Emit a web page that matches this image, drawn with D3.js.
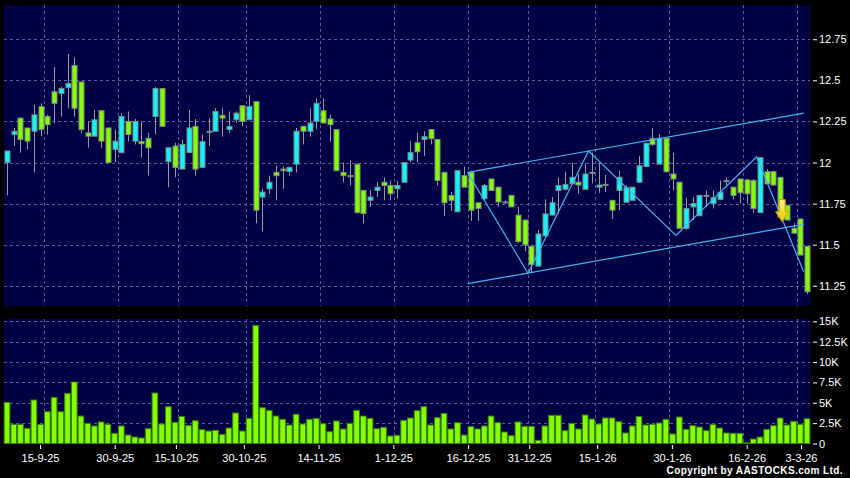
<!DOCTYPE html>
<html>
<head>
<meta charset="utf-8">
<script src="https://d3js.org/d3.v7.min.js"></script>
<style>
  body { margin: 0; background: #000; }
  svg { display: block; }
</style>
</head>
<body>
<div id="viz"></div>
<script>

// x axis labels and the bar index they belong to
var tickLabels = ['15-9-25','30-9-25','15-10-25','30-10-25','14-11-25','1-12-25','16-12-25','31-12-25','15-1-26','30-1-26','16-2-26','3-3-26'];
var tickIndex = [6,17,26,36,47,58,69,78,88,99,110,118];

// daily prices
var opens = [12.00,12.17,12.27,12.21,12.19,12.34,12.28,12.43,12.42,12.455,12.59,12.49,12.18,12.16,12.315,12.21,12.08,12.06,12.25,12.13,
  12.127,12.147,12.28,12.45,12.005,12.10,11.96,12.06,12.22,11.97,12.19,12.19,12.287,12.20,12.26,12.345,12.26,12.37,11.79,11.84,
  11.94,11.96,11.945,11.99,12.22,12.19,12.25,12.315,12.265,12.20,11.94,11.92,11.99,11.83,11.77,11.83,11.88,11.86,11.84,11.88,
  12.015,12.12,12.14,12.20,12.14,11.94,11.80,11.70,11.92,11.94,11.755,11.78,11.90,11.85,11.76,11.80,11.68,11.65,11.49,11.37,
  11.553,11.68,11.83,11.837,11.87,11.88,11.837,11.94,11.85,11.867,11.77,11.83,11.758,11.77,11.88,11.975,12.147,11.99,12.147,11.93,
  11.88,11.60,11.73,11.676,11.80,11.75,11.776,11.89,11.85,11.90,11.894,11.89,11.695,11.944,11.944,11.91,11.74,11.60,11.656,11.49];
var highs = [12.07,12.21,12.27,12.21,12.35,12.36,12.29,12.58,12.46,12.66,12.64,12.49,12.25,12.32,12.32,12.21,12.20,12.30,12.31,12.265,
  12.25,12.18,12.46,12.45,12.09,12.12,12.14,12.32,12.265,12.17,12.27,12.33,12.33,12.31,12.31,12.35,12.41,12.37,11.84,11.92,
  11.98,11.975,11.975,12.21,12.22,12.33,12.39,12.39,12.29,12.20,12.00,12.01,11.99,11.83,11.83,11.88,11.91,11.89,11.89,12.00,
  12.13,12.18,12.19,12.20,12.14,11.94,11.82,11.95,11.975,11.95,11.76,11.87,11.90,11.85,11.77,11.80,11.73,11.65,11.50,11.59,
  11.776,11.79,11.91,11.944,12.00,11.93,11.995,12.06,12.00,11.924,11.77,11.95,11.86,11.85,12.04,12.12,12.21,12.173,12.15,12.06,
  11.88,11.786,11.79,11.80,11.83,11.83,11.89,11.91,11.85,11.90,11.90,11.90,12.03,11.96,11.95,11.91,11.74,11.63,11.66,11.49];
var lows = [11.80,12.10,12.06,12.08,11.94,12.16,12.17,12.24,12.28,12.33,12.28,12.18,12.09,12.16,12.09,12.00,12.00,12.06,12.13,12.11,
  12.03,11.92,12.17,12.22,11.85,11.91,11.96,12.06,11.92,11.97,12.10,12.19,12.157,12.18,12.24,12.22,12.26,11.63,11.58,11.81,
  11.77,11.84,11.92,11.94,12.11,12.157,12.20,12.24,12.127,11.95,11.88,11.86,11.69,11.63,11.73,11.79,11.77,11.77,11.78,11.88,
  12.00,12.00,12.04,12.11,11.86,11.675,11.705,11.70,11.85,11.645,11.645,11.77,11.83,11.73,11.75,11.73,11.51,11.46,11.33,11.37,
  11.55,11.68,11.687,11.83,11.87,11.81,11.837,11.873,11.816,11.82,11.656,11.71,11.758,11.77,11.88,11.975,12.10,11.99,11.94,11.83,
  11.60,11.59,11.65,11.676,11.73,11.72,11.77,11.86,11.776,11.75,11.75,11.695,11.695,11.87,11.86,11.667,11.65,11.57,11.437,11.20];
var closes = [12.07,12.19,12.14,12.13,12.29,12.20,12.23,12.36,12.45,12.48,12.33,12.20,12.16,12.26,12.13,12.00,12.13,12.28,12.17,12.25,
  12.114,12.09,12.45,12.22,12.09,11.97,12.11,12.21,11.96,12.127,12.19,12.31,12.27,12.22,12.30,12.25,12.34,11.71,11.82,11.88,
  11.92,11.95,11.97,12.19,12.19,12.24,12.36,12.24,12.23,11.95,11.92,11.92,11.695,11.69,11.79,11.85,11.86,11.81,11.86,12.00,
  12.06,12.065,12.157,12.145,11.89,11.755,11.77,11.95,11.85,11.71,11.72,11.86,11.83,11.76,11.76,11.73,11.52,11.50,11.38,11.565,
  11.687,11.755,11.86,11.867,11.91,11.863,11.93,11.94,11.863,11.867,11.71,11.91,11.847,11.85,11.98,12.117,12.11,12.147,11.944,11.90,
  11.60,11.72,11.75,11.80,11.80,11.786,11.82,11.89,11.80,11.816,11.81,11.72,12.03,11.87,11.863,11.667,11.65,11.57,11.437,11.214];

// volume in thousands
var volumes = [5.05,2.35,2.35,1.86,5.34,2.35,3.9,5.66,3.9,6.15,7.55,3.37,2.47,2.15,2.64,2.35,1.25,2.15,1.04,0.8,
  0.67,1.82,6.2,2.39,4.52,2.6,3.33,2.19,2.8,1.7,1.53,1.62,1.12,1.9,3.74,1.53,3.09,14.5,4.4,4.07,
  3.37,2.97,2.27,3.58,2.39,2.97,3.09,2.43,1.45,2.76,1.78,2.47,4.07,3.37,3.09,1.82,1.98,0.92,1.0,2.84,
  3.13,4.03,4.52,2.27,3.17,3.7,1.78,2.56,1.04,2.07,1.78,2.15,3.37,2.56,1.41,0.96,2.64,2.11,2.11,0.39,
  2.15,3.46,3.46,1.57,2.47,1.78,3.5,3.0,2.39,3.13,3.13,2.68,1.29,2.15,3.33,2.27,2.35,2.52,2.97,1.17,
  3.25,1.74,2.19,2.02,1.57,2.35,1.9,1.29,1.25,1.25,0.1,0.55,0.8,1.74,2.19,3.13,2.27,2.72,2.35,3.05];

var priceTicks = [12.75,12.5,12.25,12,11.75,11.5,11.25];
var volTicks = [15,12.5,10,7.5,5,2.5,0];

// drawn trend lines (bar index, price)
var zigIndex = [69,78,87,100,112,119];
var zigPrice = [11.94,11.326,12.07,11.557,12.035,11.336];
var channelIndex = [69,119];
var upperPrice = [11.94,12.30];
var lowerPrice = [11.263,11.624];
var signalIndex = 115;
var signalPrice = 11.64;

var width = 850,
    height = 478;

var svg = d3.select('#viz').append('svg')
  .attr('width', width)
  .attr('height', height)
  .style('background', '#000')

var bg = '#000044';
var gridColor = '#5c5c98';
var cyan = '#10f4ff';
var green = '#84ff00';

var x = d3.scaleBand()
  .domain(d3.range(opens.length))
  .range([3.66, 810.4])
  .padding(0)

var step = x.step();
function cx(i){ return x(i) + step/2 }

var labelX = d3.scaleLinear()
  .domain([tickIndex[0], tickIndex[tickIndex.length-1]])
  .range([40, 801])

var y = d3.scaleLinear()
  .domain([11.25, 12.75])
  .range([285.8, 39.2])

var yv = d3.scaleLinear()
  .domain([0, 15])
  .range([443.5, 321.3])

// panels
svg.append('rect')
  .attr('x', 4).attr('y', 5)
  .attr('width', 806).attr('height', 301)
  .attr('fill', bg)

svg.append('rect')
  .attr('x', 4).attr('y', 319)
  .attr('width', 806).attr('height', 125)
  .attr('fill', bg)

// grid
var grid = svg.append('g')
  .attr('stroke', gridColor)
  .attr('stroke-width', 1)
  .attr('stroke-dasharray', '3,3')

grid.selectAll('.hgrid')
  .data(priceTicks)
  .enter()
  .append('line')
  .attr('x1', 4).attr('x2', 810)
  .attr('y1', function(d){ return Math.round(y(d)) + 0.5 })
  .attr('y2', function(d){ return Math.round(y(d)) + 0.5 })

grid.selectAll('.vgridv')
  .data(volTicks.filter(function(d){ return d > 0 }))
  .enter()
  .append('line')
  .attr('x1', 4).attr('x2', 810)
  .attr('y1', function(d){ return Math.round(yv(d)) + 0.5 })
  .attr('y2', function(d){ return Math.round(yv(d)) + 0.5 })

grid.selectAll('.vgrid')
  .data(tickIndex)
  .enter()
  .append('line')
  .attr('x1', function(d){ return Math.round(x(d)) + 0.5 })
  .attr('x2', function(d){ return Math.round(x(d)) + 0.5 })
  .attr('y1', 5).attr('y2', 306)

grid.selectAll('.vgrid2')
  .data(tickIndex)
  .enter()
  .append('line')
  .attr('x1', function(d){ return Math.round(x(d)) + 0.5 })
  .attr('x2', function(d){ return Math.round(x(d)) + 0.5 })
  .attr('y1', 319).attr('y2', 444)

// candles
var bars = d3.range(opens.length).map(function(i){
  return {i: i, o: opens[i], h: highs[i], l: lows[i], c: closes[i], v: volumes[i]}
})

var candles = svg.append('g').selectAll('.candle')
  .data(bars)
  .enter()
  .append('g')
  .attr('class', 'candle')

candles.append('line')
  .attr('x1', function(d){ return Math.round(cx(d.i)) + 0.5 })
  .attr('x2', function(d){ return Math.round(cx(d.i)) + 0.5 })
  .attr('y1', function(d){ return y(d.h) })
  .attr('y2', function(d){ return y(d.l) })
  .attr('stroke', '#9a9a9a')

candles.append('rect')
  .attr('x', function(d){ return Math.round(cx(d.i)) - 2 })
  .attr('width', 5)
  .attr('y', function(d){ return y(Math.max(d.o, d.c)) })
  .attr('height', function(d){ return Math.max(Math.abs(y(d.o) - y(d.c)), 1) })
  .attr('fill', function(d){
    if(d.c > d.o) return cyan;
    if(d.c < d.o) return green;
    return '#9a9a9a';
  })
  .attr('stroke', '#7f8a7f')
  .attr('stroke-width', 1)

// channel and zigzag
var lineColor = '#3fb6ee';
var trend = d3.line()
  .x(function(d){ return x(d[0]) })
  .y(function(d){ return y(d[1]) })

svg.append('path')
  .attr('d', trend(d3.zip(zigIndex, zigPrice)))
  .attr('fill', 'none')
  .attr('stroke', lineColor)
  .attr('stroke-width', 1.2)

svg.append('path')
  .attr('d', trend(d3.zip(channelIndex, upperPrice)))
  .attr('fill', 'none')
  .attr('stroke', lineColor)
  .attr('stroke-width', 1.2)

svg.append('path')
  .attr('d', trend(d3.zip(channelIndex, lowerPrice)))
  .attr('fill', 'none')
  .attr('stroke', lineColor)
  .attr('stroke-width', 1.2)

// sell signal arrow
var defs = svg.append('defs');
var grad = defs.append('linearGradient')
  .attr('id', 'arrowGrad')
  .attr('x1', 0).attr('y1', 0).attr('x2', 0).attr('y2', 1)
grad.append('stop').attr('offset', '0%').attr('stop-color', '#fff38a')
grad.append('stop').attr('offset', '100%').attr('stop-color', '#f6c000')

var ax = cx(signalIndex) + 2,
    ay = y(signalPrice);
svg.append('path')
  .attr('d', 'M' + (ax-3) + ',' + (ay-22) + 'L' + (ax+3) + ',' + (ay-22) + 'L' + (ax+3) + ',' + (ay-10)
    + 'L' + (ax+6.5) + ',' + (ay-10) + 'L' + ax + ',' + ay + 'L' + (ax-6.5) + ',' + (ay-10)
    + 'L' + (ax-3) + ',' + (ay-10) + 'Z')
  .attr('fill', 'url(#arrowGrad)')
  .attr('stroke', '#d89a00')
  .attr('stroke-width', 1)

// volume bars
svg.append('g').selectAll('.vol')
  .data(bars)
  .enter()
  .append('rect')
  .attr('class', 'vol')
  .attr('x', function(d){ return x(d.i) + 0.5 })
  .attr('width', step - 1)
  .attr('y', function(d){ return yv(d.v) })
  .attr('height', function(d){ return yv(0) - yv(d.v) })
  .attr('fill', green)
  .attr('stroke', '#3a7d00')
  .attr('stroke-width', 1)

// axes
function styleAxis(g){
  g.select('.domain').remove();
  g.selectAll('line').attr('stroke', '#fff');
  g.selectAll('text')
    .attr('fill', '#fff')
    .style('font-family', 'Arial, "Liberation Sans", sans-serif')
    .style('font-size', '11px');
}

svg.append('g')
  .attr('transform', 'translate(813,0)')
  .call(d3.axisRight(y).tickValues(priceTicks).tickSize(4).tickPadding(2).tickFormat(d3.format('')))
  .call(styleAxis)

svg.append('g')
  .attr('transform', 'translate(813,0)')
  .call(d3.axisRight(yv).tickValues(volTicks).tickSize(4).tickPadding(2)
    .tickFormat(function(d){ return d === 0 ? '0' : d + 'K' }))
  .call(styleAxis)

svg.append('g')
  .attr('transform', 'translate(0,445)')
  .call(d3.axisBottom(labelX).tickValues(tickIndex).tickSize(4).tickPadding(5)
    .tickFormat(function(d, i){ return tickLabels[i] }))
  .call(styleAxis)

svg.append('text')
  .attr('x', 843)
  .attr('y', 474)
  .attr('text-anchor', 'end')
  .attr('fill', '#fff')
  .style('font-family', 'Arial, "Liberation Sans", sans-serif')
  .style('font-size', '10px')
  .style('font-weight', 'bold')
  .style('letter-spacing', '0.4px')
  .text('Copyright by AASTOCKS.com Ltd.')

</script>
</body>
</html>
